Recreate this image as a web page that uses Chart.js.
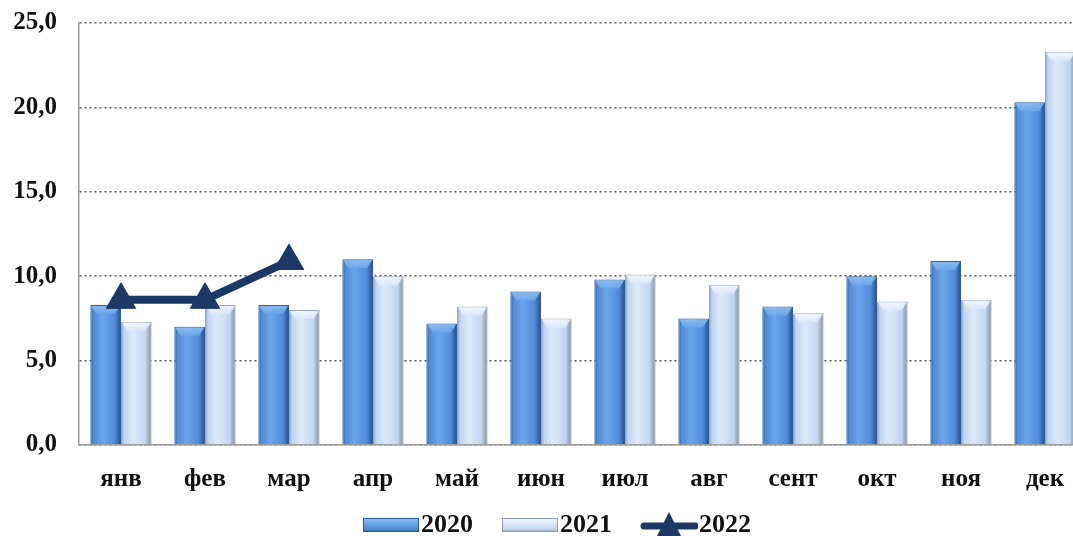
<!DOCTYPE html>
<html><head><meta charset="utf-8">
<script src="https://cdn.jsdelivr.net/npm/chart.js@4/dist/chart.umd.min.js"></script>
<style>html,body{margin:0;padding:0;background:#fff;overflow:hidden}#wrap{width:1073px;height:536px;overflow:hidden}</style>
</head><body><div id="wrap"><canvas id="c" width="1090" height="536"></canvas></div>
<script>
const categories = ['янв','фев','мар','апр','май','июн','июл','авг','сент','окт','ноя','дек'];
const values2020 = [8.3, 7.0, 8.3, 11.0, 7.2, 9.1, 9.8, 7.5, 8.2, 10.0, 10.9, 20.3];
const values2021 = [7.3, 8.3, 8.0, 10.0, 8.2, 7.5, 10.1, 9.5, 7.8, 8.5, 8.6, 23.3];
const values2022 = [8.6, 8.6, 10.9, null, null, null, null, null, null, null, null, null];
const seriesNames = ['2020','2021','2022'];
const yTicks = [0, 5, 10, 15, 20, 25];

const C2020 = ['#2e5d9e', '#6ca6ea', '#4f8ad8', '#8fc0f2'];
const C2021 = ['#8e9db3', '#dde9f9', '#c2d6f1', '#f4f8fe'];
const LINE = '#1c3966';
const FONT = '"Liberation Serif", "Times New Roman", serif';

function barGrad(ctx, x0, x1, cols){
  const g = ctx.createLinearGradient(x0, 0, x1, 0);
  g.addColorStop(0, cols[0]);
  g.addColorStop(0.1, cols[2]);
  g.addColorStop(0.4, cols[1]);
  g.addColorStop(0.8, cols[2]);
  g.addColorStop(0.95, cols[0]);
  g.addColorStop(1, cols[0]);
  return g;
}

// legend symbol canvases: 96 px wide, visible symbol on the right part
function swatch(cols){
  const cv = document.createElement('canvas');
  cv.width = 96; cv.height = 14;
  const x = cv.getContext('2d');
  const g = x.createLinearGradient(0,0,0,14);
  g.addColorStop(0, cols[3]); g.addColorStop(0.4, cols[1]); g.addColorStop(0.8, cols[2]); g.addColorStop(1, cols[0]);
  x.fillStyle = g; x.fillRect(39,0,56,14);
  x.strokeStyle = cols[0]; x.lineWidth = 1; x.strokeRect(39.5,0.5,55,13);
  return cv;
}
function lineSwatch(){
  const cv = document.createElement('canvas');
  cv.width = 96; cv.height = 28;
  const x = cv.getContext('2d');
  x.strokeStyle = LINE; x.lineWidth = 7; x.lineCap = 'round';
  x.beginPath(); x.moveTo(42,15); x.lineTo(93,15); x.stroke();
  x.fillStyle = LINE;
  x.beginPath(); x.moveTo(67,1); x.lineTo(80,27); x.lineTo(54,27); x.closePath(); x.fill();
  return cv;
}

const gradPlugin = {
  id: 'gradPlugin',
  beforeDatasetDraw(chart, args){
    const ds = chart.data.datasets[args.index];
    if (ds.type !== 'bar') return;
    const cols = args.index === 0 ? C2020 : C2021;
    args.meta.data.forEach(el => {
      const x0 = el.x - el.width/2, x1 = el.x + el.width/2;
      el.options = Object.assign({}, el.options, { backgroundColor: barGrad(chart.ctx, x0, x1, cols) });
    });
  },
  afterDatasetDraw(chart, args){
    const ds = chart.data.datasets[args.index];
    if (ds.type !== 'bar') return;
    const cols = args.index === 0 ? C2020 : C2021;
    const ctx = chart.ctx;
    ctx.save();
    args.meta.data.forEach(el => {
      const x0 = el.x - el.width/2 + 1, x1 = el.x + el.width/2 - 1, y = el.y + 1;
      const g = ctx.createLinearGradient(0, y, 0, y + 8);
      g.addColorStop(0, cols[3]); g.addColorStop(1, cols[1]);
      ctx.fillStyle = g;
      ctx.globalAlpha = 0.85;
      ctx.beginPath();
      ctx.moveTo(x0, y); ctx.lineTo(x1, y); ctx.lineTo(x1 - 5, y + 8); ctx.lineTo(x0 + 5, y + 8); ctx.closePath();
      ctx.fill();
    });
    ctx.restore();
  }
};

new Chart(document.getElementById('c'), {
  data: {
    labels: categories,
    datasets: [
      { type:'bar', label: seriesNames[0], data: values2020, backgroundColor: C2020[2], borderColor: C2020[0], borderWidth: 1,
        categoryPercentage: 0.73, barPercentage: 1, order: 2 },
      { type:'bar', label: seriesNames[1], data: values2021, backgroundColor: C2021[2], borderColor: '#9aa8bd', borderWidth: 1,
        categoryPercentage: 0.73, barPercentage: 1, order: 2 },
      { type:'line', label: seriesNames[2], data: values2022, borderColor: LINE, backgroundColor: LINE, borderWidth: 8,
        pointStyle: 'triangle', pointRadius: 17, pointBackgroundColor: LINE, pointBorderColor: LINE, pointBorderWidth: 1,
        spanGaps: false, tension: 0, order: 1 }
    ]
  },
  options: {
    responsive: false,
    animation: false,
    devicePixelRatio: 1,
    layout: { autoPadding: false, padding: { top: 23, right: 3, left: 0, bottom: -12 } },
    plugins: {
      tooltip: { enabled: false },
      legend: {
        position: 'bottom',
        labels: {
          usePointStyle: true,
          pointStyleWidth: 72,
          padding: 2,
          color: '#111',
          font: { family: FONT, size: 26, weight: 'bold' },
          generateLabels(chart){
            const imgs = [swatch(C2020), swatch(C2021), lineSwatch()];
            return chart.data.datasets.map((d,i) => ({
              text: d.label, pointStyle: imgs[i], datasetIndex: i, hidden: false,
              fillStyle: 'transparent', strokeStyle: 'transparent', lineWidth: 0, fontColor: '#111'
            }));
          }
        }
      }
    },
    scales: {
      x: {
        afterFit(axis){ axis.height = 65; },
        grid: { display: false, drawTicks: false },
        border: { display: true, color: '#9a9a9a', width: 1.5 },
        ticks: { color: '#111', padding: 20, font: { family: FONT, size: 25, weight: 'bold' } }
      },
      y: {
        min: 0, max: 25,
        afterBuildTicks(axis){ axis.ticks = yTicks.map(v => ({ value: v })); },
        afterFit(axis){ axis.width = 79; },
        grid: { color: '#555', lineWidth: 1.5, drawTicks: true, tickLength: 18, tickColor: 'rgba(0,0,0,0)' },
        border: { display: true, color: '#9a9a9a', width: 1.5, dash: [2, 3] },
        ticks: {
          color: '#111', padding: 4,
          font: { family: FONT, size: 25, weight: 'bold' },
          callback: v => v.toFixed(1).replace('.', ',')
        }
      }
    }
  },
  plugins: [gradPlugin]
});
</script>
</body></html>
